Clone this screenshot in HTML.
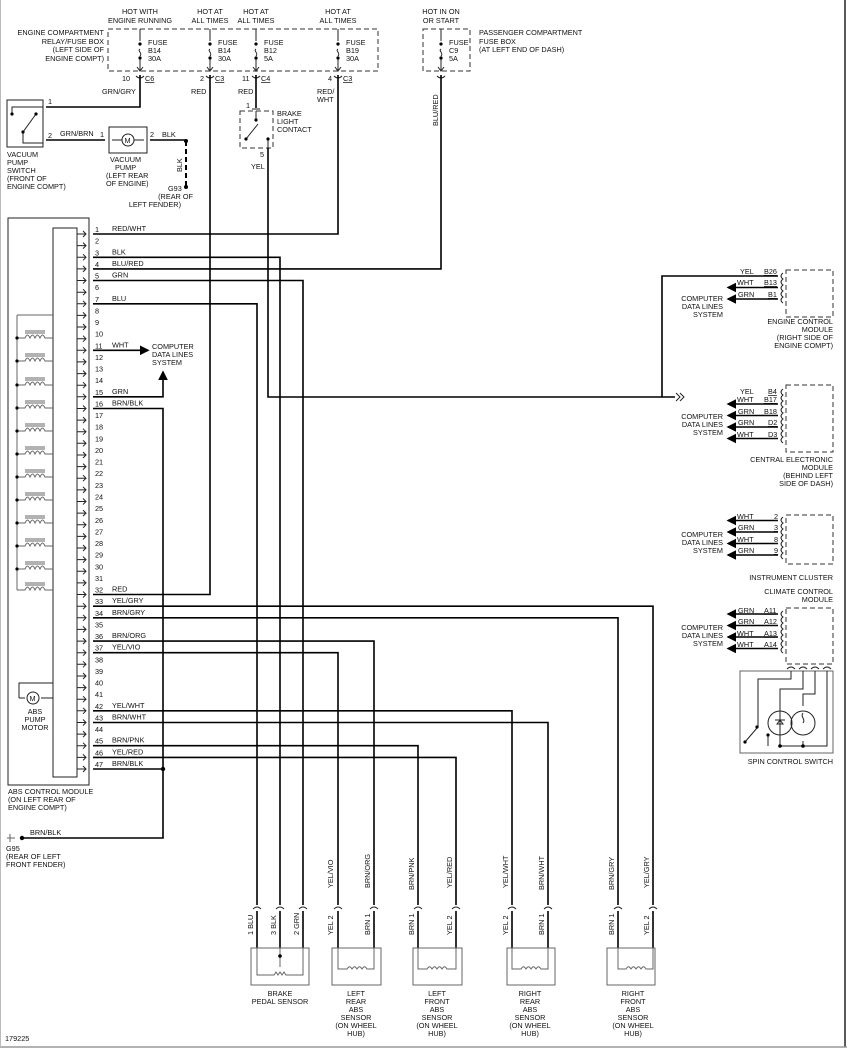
<!DOCTYPE html>
<html><head><meta charset="utf-8"><style>
html,body{margin:0;padding:0;background:#fff}
svg{display:block}
text{font-family:"Liberation Sans",Arial,sans-serif;font-size:7.3px;fill:#111}
.w{stroke:#000;stroke-width:1.6;fill:none}
.t{stroke:#222;stroke-width:1;fill:none}
.d{stroke:#333;stroke-width:1;fill:none;stroke-dasharray:5 3}
.g{stroke:#666;stroke-width:1;fill:none}
</style></head><body>
<svg width="847" height="1050" viewBox="0 0 847 1050" xmlns="http://www.w3.org/2000/svg">
<defs>
<marker id="ar" markerWidth="6" markerHeight="6" refX="5" refY="3" orient="auto"><path d="M0,0 L6,3 L0,6z" fill="#000"/></marker>
</defs>
<line x1="845" y1="0" x2="845" y2="1047" stroke="#222" stroke-width="1.5"/>
<line x1="0" y1="1047" x2="847" y2="1047" stroke="#999" stroke-width="1.5"/>
<line x1="0.5" y1="0" x2="0.5" y2="1047" stroke="#bbb"/>

<rect x="108" y="29" width="270" height="42" class="d"/>
<text x="104" y="35" text-anchor="end">ENGINE COMPARTMENT</text>
<text x="104" y="44" text-anchor="end">RELAY/FUSE BOX</text>
<text x="104" y="52" text-anchor="end">(LEFT SIDE OF</text>
<text x="104" y="61" text-anchor="end">ENGINE COMPT)</text>
<text x="140" y="14" text-anchor="middle">HOT WITH</text>
<text x="140" y="23" text-anchor="middle">ENGINE RUNNING</text>
<text x="210" y="14" text-anchor="middle">HOT AT</text><text x="210" y="23" text-anchor="middle">ALL TIMES</text>
<text x="256" y="14" text-anchor="middle">HOT AT</text><text x="256" y="23" text-anchor="middle">ALL TIMES</text>
<text x="338" y="14" text-anchor="middle">HOT AT</text><text x="338" y="23" text-anchor="middle">ALL TIMES</text>
<g class="t">
<path d="M140 29V41 M140 49c-3 2 3 4 0 7 M140 58V70 M137 67l3 4 3-4"/>
<path d="M210 29V41 M210 49c-3 2 3 4 0 7 M210 58V70 M207 67l3 4 3-4"/>
<path d="M256 29V41 M256 49c-3 2 3 4 0 7 M256 58V70 M253 67l3 4 3-4"/>
<path d="M338 29V41 M338 49c-3 2 3 4 0 7 M338 58V70 M335 67l3 4 3-4"/>
<path d="M441 29V41 M441 49c-3 2 3 4 0 7 M441 58V70 M438 67l3 4 3-4"/>
</g>
<g fill="#000"><circle cx="140" cy="44" r="1.6"/><circle cx="140" cy="58" r="1.6"/><circle cx="210" cy="44" r="1.6"/><circle cx="210" cy="58" r="1.6"/><circle cx="256" cy="44" r="1.6"/><circle cx="256" cy="58" r="1.6"/><circle cx="338" cy="44" r="1.6"/><circle cx="338" cy="58" r="1.6"/><circle cx="441" cy="44" r="1.6"/><circle cx="441" cy="58" r="1.6"/></g>
<text x="148" y="45">FUSE</text><text x="148" y="53">B14</text><text x="148" y="61">30A</text>
<text x="218" y="45">FUSE</text><text x="218" y="53">B14</text><text x="218" y="61">30A</text>
<text x="264" y="45">FUSE</text><text x="264" y="53">B12</text><text x="264" y="61">5A</text>
<text x="346" y="45">FUSE</text><text x="346" y="53">B19</text><text x="346" y="61">30A</text>
<g class="t"><path d="M136 76q4 4 8 0M206 76q4 4 8 0M252 76q4 4 8 0M334 76q4 4 8 0M437 76q4 4 8 0"/></g>
<text x="122" y="81">10</text><text x="145" y="81" text-decoration="underline">C6</text>
<text x="200" y="81">2</text><text x="215" y="81" text-decoration="underline">C3</text>
<text x="242" y="81">11</text><text x="261" y="81" text-decoration="underline">C4</text>
<text x="328" y="81">4</text><text x="343" y="81" text-decoration="underline">C3</text>
<text x="102" y="94">GRN/GRY</text>
<text x="191" y="94">RED</text>
<text x="238" y="94">RED</text>
<text x="317" y="94">RED/</text><text x="317" y="102">WHT</text>
<rect x="423" y="29" width="47" height="42" class="d"/>
<text x="441" y="14" text-anchor="middle">HOT IN ON</text><text x="441" y="23" text-anchor="middle">OR START</text>
<text x="449" y="45">FUSE</text><text x="449" y="53">C9</text><text x="449" y="61">5A</text>
<text x="479" y="35">PASSENGER COMPARTMENT</text><text x="479" y="44">FUSE BOX</text><text x="479" y="52">(AT LEFT END OF DASH)</text>
<text transform="translate(438,126) rotate(-90)">BLU/RED</text>

<rect x="7" y="100" width="36" height="47" class="t"/>
<path class="t" d="M12 114V107H43 M23 132V143H43 M23 132L36 114"/>
<circle cx="12" cy="114" r="1.6"/><circle cx="23" cy="132" r="1.6"/><circle cx="36" cy="114" r="1.6"/>
<text x="48" y="104">1</text><text x="48" y="138">2</text>
<path class="w" d="M46 107H140V75"/>
<path class="w" d="M46 140H105"/>
<text x="60" y="136">GRN/BRN</text>
<text x="7" y="157">VACUUM</text><text x="7" y="165">PUMP</text><text x="7" y="173">SWITCH</text><text x="7" y="181">(FRONT OF</text><text x="7" y="189">ENGINE COMPT)</text>
<rect x="109" y="127" width="38" height="26" class="t"/>
<circle cx="128" cy="140" r="6" class="t"/><text x="124.5" y="143">M</text>
<path class="t" d="M112 140h10M134 140h10"/>
<text x="100" y="137">1</text><text x="150" y="137">2</text>
<path class="w" d="M150 140H186"/>
<text x="162" y="137">BLK</text>
<path d="M186 141V187" stroke="#000" stroke-width="2" stroke-dasharray="5 3"/>
<circle cx="186" cy="141" r="2" fill="#000"/><circle cx="186" cy="187" r="2" fill="#000"/>
<text transform="translate(182,172) rotate(-90)">BLK</text>
<text x="168" y="191">G93</text>
<text x="193" y="199" text-anchor="end">(REAR OF</text><text x="181" y="207" text-anchor="end">LEFT FENDER)</text>
<text x="110" y="162">VACUUM</text><text x="115" y="170">PUMP</text><text x="106" y="178">(LEFT REAR</text><text x="106" y="186">OF ENGINE)</text>

<rect x="240" y="111" width="33" height="37" class="d"/>
<text x="246" y="108">1</text>
<path class="w" d="M256 75V108"/>
<path class="t" d="M252 109h8M256 111V120M246 139L258 124M268 139V148"/>
<circle cx="256" cy="120" r="1.6"/><circle cx="246" cy="139" r="1.6"/><circle cx="268" cy="139" r="1.6"/>
<text x="277" y="116">BRAKE</text><text x="277" y="124">LIGHT</text><text x="277" y="132">CONTACT</text>
<text x="260" y="157">5</text><text x="251" y="169">YEL</text>

<rect x="8" y="218" width="81" height="567" class="t"/>
<rect x="53" y="228" width="24" height="549" class="t"/>
<path class="g" d="M17 315H53 M17 315V590"/>
<g class="g">
<path d="M17 338H25c2-4 3-4 5 0 2-4 3-4 5 0 2-4 3-4 5 0 2-4 3-4 5 0H53 M25 333H45M25 331H45"/>
<path d="M17 361H25c2-4 3-4 5 0 2-4 3-4 5 0 2-4 3-4 5 0 2-4 3-4 5 0H53 M25 356H45M25 354H45"/>
<path d="M17 385H25c2-4 3-4 5 0 2-4 3-4 5 0 2-4 3-4 5 0 2-4 3-4 5 0H53 M25 380H45M25 378H45"/>
<path d="M17 408H25c2-4 3-4 5 0 2-4 3-4 5 0 2-4 3-4 5 0 2-4 3-4 5 0H53 M25 403H45M25 401H45"/>
<path d="M17 431H25c2-4 3-4 5 0 2-4 3-4 5 0 2-4 3-4 5 0 2-4 3-4 5 0H53 M25 426H45M25 424H45"/>
<path d="M17 454H25c2-4 3-4 5 0 2-4 3-4 5 0 2-4 3-4 5 0 2-4 3-4 5 0H53 M25 449H45M25 447H45"/>
<path d="M17 477H25c2-4 3-4 5 0 2-4 3-4 5 0 2-4 3-4 5 0 2-4 3-4 5 0H53 M25 472H45M25 470H45"/>
<path d="M17 500H25c2-4 3-4 5 0 2-4 3-4 5 0 2-4 3-4 5 0 2-4 3-4 5 0H53 M25 495H45M25 493H45"/>
<path d="M17 523H25c2-4 3-4 5 0 2-4 3-4 5 0 2-4 3-4 5 0 2-4 3-4 5 0H53 M25 518H45M25 516H45"/>
<path d="M17 546H25c2-4 3-4 5 0 2-4 3-4 5 0 2-4 3-4 5 0 2-4 3-4 5 0H53 M25 541H45M25 539H45"/>
<path d="M17 569H25c2-4 3-4 5 0 2-4 3-4 5 0 2-4 3-4 5 0 2-4 3-4 5 0H53 M25 564H45M25 562H45"/>
<path d="M17 590H25c2-4 3-4 5 0 2-4 3-4 5 0 2-4 3-4 5 0 2-4 3-4 5 0H53 M25 585H45M25 583H45"/>
</g>
<g fill="#000"><circle cx="17" cy="338" r="1.6"/><circle cx="17" cy="361" r="1.6"/><circle cx="17" cy="385" r="1.6"/><circle cx="17" cy="408" r="1.6"/><circle cx="17" cy="431" r="1.6"/><circle cx="17" cy="454" r="1.6"/><circle cx="17" cy="477" r="1.6"/><circle cx="17" cy="500" r="1.6"/><circle cx="17" cy="523" r="1.6"/><circle cx="17" cy="546" r="1.6"/><circle cx="17" cy="569" r="1.6"/></g>
<path class="t" d="M19 698V683H53 M19 698H25 M41 698H53"/>
<circle cx="33" cy="698" r="6" class="t"/><text x="29.5" y="701">M</text>
<text x="35" y="714" text-anchor="middle">ABS</text><text x="35" y="722" text-anchor="middle">PUMP</text><text x="35" y="730" text-anchor="middle">MOTOR</text>
<text x="8" y="794">ABS CONTROL MODULE</text><text x="8" y="802">(ON LEFT REAR OF</text><text x="8" y="810">ENGINE COMPT)</text>

<g class="t">
<path d="M77 234h9m-3-3l3 3-3 3M77 245.6h9m-3-3l3 3-3 3M77 257.3h9m-3-3l3 3-3 3M77 268.9h9m-3-3l3 3-3 3M77 280.5h9m-3-3l3 3-3 3M77 292.2h9m-3-3l3 3-3 3M77 303.8h9m-3-3l3 3-3 3M77 315.4h9m-3-3l3 3-3 3M77 327h9m-3-3l3 3-3 3M77 338.7h9m-3-3l3 3-3 3M77 350.3h9m-3-3l3 3-3 3M77 361.9h9m-3-3l3 3-3 3M77 373.6h9m-3-3l3 3-3 3M77 385.2h9m-3-3l3 3-3 3M77 396.8h9m-3-3l3 3-3 3M77 408.5h9m-3-3l3 3-3 3M77 420.1h9m-3-3l3 3-3 3M77 431.7h9m-3-3l3 3-3 3M77 443.3h9m-3-3l3 3-3 3M77 455h9m-3-3l3 3-3 3M77 466.6h9m-3-3l3 3-3 3M77 478.2h9m-3-3l3 3-3 3M77 489.9h9m-3-3l3 3-3 3M77 501.5h9m-3-3l3 3-3 3M77 513.1h9m-3-3l3 3-3 3M77 524.8h9m-3-3l3 3-3 3M77 536.4h9m-3-3l3 3-3 3M77 548h9m-3-3l3 3-3 3M77 559.6h9m-3-3l3 3-3 3M77 571.3h9m-3-3l3 3-3 3M77 582.9h9m-3-3l3 3-3 3M77 594.5h9m-3-3l3 3-3 3M77 606.2h9m-3-3l3 3-3 3M77 617.8h9m-3-3l3 3-3 3M77 629.4h9m-3-3l3 3-3 3M77 641.1h9m-3-3l3 3-3 3M77 652.7h9m-3-3l3 3-3 3M77 664.3h9m-3-3l3 3-3 3M77 676h9m-3-3l3 3-3 3M77 687.6h9m-3-3l3 3-3 3M77 699.2h9m-3-3l3 3-3 3M77 710.8h9m-3-3l3 3-3 3M77 722.5h9m-3-3l3 3-3 3M77 734.1h9m-3-3l3 3-3 3M77 745.7h9m-3-3l3 3-3 3M77 757.4h9m-3-3l3 3-3 3M77 769h9m-3-3l3 3-3 3"/>
</g>
<g>
<text x="95" y="232">1</text><text x="95" y="243.6">2</text><text x="95" y="255.3">3</text><text x="95" y="266.9">4</text><text x="95" y="278.5">5</text><text x="95" y="290.2">6</text><text x="95" y="301.8">7</text><text x="95" y="313.4">8</text><text x="95" y="325">9</text><text x="95" y="336.7">10</text><text x="95" y="348.3">11</text><text x="95" y="359.9">12</text><text x="95" y="371.6">13</text><text x="95" y="383.2">14</text><text x="95" y="394.8">15</text><text x="95" y="406.5">16</text><text x="95" y="418.1">17</text><text x="95" y="429.7">18</text><text x="95" y="441.3">19</text><text x="95" y="453">20</text><text x="95" y="464.6">21</text><text x="95" y="476.2">22</text><text x="95" y="487.9">23</text><text x="95" y="499.5">24</text><text x="95" y="511.1">25</text><text x="95" y="522.8">26</text><text x="95" y="534.4">27</text><text x="95" y="546">28</text><text x="95" y="557.6">29</text><text x="95" y="569.3">30</text><text x="95" y="580.9">31</text><text x="95" y="592.5">32</text><text x="95" y="604.2">33</text><text x="95" y="615.8">34</text><text x="95" y="627.4">35</text><text x="95" y="639.1">36</text><text x="95" y="650.7">37</text><text x="95" y="662.3">38</text><text x="95" y="674">39</text><text x="95" y="685.6">40</text><text x="95" y="697.2">41</text><text x="95" y="708.8">42</text><text x="95" y="720.5">43</text><text x="95" y="732.1">44</text><text x="95" y="743.7">45</text><text x="95" y="755.4">46</text><text x="95" y="767">47</text>
</g>
<g>
<text x="112" y="231">RED/WHT</text><text x="112" y="254.3">BLK</text><text x="112" y="265.9">BLU/RED</text><text x="112" y="277.5">GRN</text><text x="112" y="300.8">BLU</text><text x="112" y="347.3">WHT</text><text x="112" y="393.8">GRN</text><text x="112" y="405.5">BRN/BLK</text><text x="112" y="591.5">RED</text><text x="112" y="603.2">YEL/GRY</text><text x="112" y="614.8">BRN/GRY</text><text x="112" y="638.1">BRN/ORG</text><text x="112" y="649.7">YEL/VIO</text><text x="112" y="707.8">YEL/WHT</text><text x="112" y="719.5">BRN/WHT</text><text x="112" y="742.7">BRN/PNK</text><text x="112" y="754.4">YEL/RED</text><text x="112" y="766">BRN/BLK</text>
</g>

<g class="w">
<path d="M93 234H338V75"/>
<path d="M93 257.3H280V905"/>
<path d="M93 268.9H441V75"/>
<path d="M93 280.5H303V905"/>
<path d="M93 303.8H257V905"/>
<path d="M93 408.5H163V838H22"/>
<path d="M93 594.5H210V75"/>
<path d="M93 606.2H653V905"/>
<path d="M93 617.8H618V905"/>
<path d="M93 641.1H374V905"/>
<path d="M93 652.7H338V905"/>
<path d="M93 710.8H512V905"/>
<path d="M93 722.5H548V905"/>
<path d="M93 745.7H418V905"/>
<path d="M93 757.4H456V905"/>
<path d="M93 769H163"/>
<path d="M268 148V397H675"/>
<path d="M662 397V276H778"/>
<path d="M93 350.3H148" marker-end="url(#ar)"/>
<path d="M93 396.8H163V372" marker-end="url(#ar)"/>
</g>
<circle cx="163" cy="769" r="2.2" fill="#000"/><circle cx="22" cy="838" r="2.2" fill="#000"/>
<path class="t" d="M676 393l4 4-4 4M680 393l4 4-4 4"/>
<text x="152" y="349">COMPUTER</text><text x="152" y="357">DATA LINES</text><text x="152" y="365">SYSTEM</text>
<text x="30" y="835">BRN/BLK</text>
<path class="g" d="M7 838h8M10 834v8"/>
<text x="6" y="851">G95</text><text x="6" y="859">(REAR OF LEFT</text><text x="6" y="867">FRONT FENDER)</text>

<g class="d"><rect x="786" y="270" width="47" height="47"/><rect x="786" y="385" width="47" height="67"/><rect x="786" y="515" width="47" height="49"/><rect x="786" y="608" width="47" height="56"/></g>
<g class="w">
<path d="M778 287.5H728" marker-end="url(#ar)"/><path d="M778 299H728" marker-end="url(#ar)"/>
<path d="M778 404H728" marker-end="url(#ar)"/><path d="M778 415.5H728" marker-end="url(#ar)"/><path d="M778 427H728" marker-end="url(#ar)"/><path d="M778 438.5H728" marker-end="url(#ar)"/>
<path d="M778 520.5H728" marker-end="url(#ar)"/><path d="M778 532H728" marker-end="url(#ar)"/><path d="M778 543.5H728" marker-end="url(#ar)"/><path d="M778 555H728" marker-end="url(#ar)"/>
<path d="M778 614H728" marker-end="url(#ar)"/><path d="M778 625.5H728" marker-end="url(#ar)"/><path d="M778 637H728" marker-end="url(#ar)"/><path d="M778 648.5H728" marker-end="url(#ar)"/>
</g>
<g class="t"><path d="M783 273q-4 3 0 6q-4 3 0 6q-4 3 0 6q-4 3 0 6q-4 3 0 6 M783 389q-4 3 0 6q-4 3 0 6q-4 3 0 6q-4 3 0 6q-4 3 0 6q-4 3 0 6q-4 3 0 6q-4 3 0 6q-4 3 0 6 M783 517q-4 3 0 6q-4 3 0 6q-4 3 0 6q-4 3 0 6q-4 3 0 6q-4 3 0 6q-4 3 0 6 M783 611q-4 3 0 6q-4 3 0 6q-4 3 0 6q-4 3 0 6q-4 3 0 6q-4 3 0 6q-4 3 0 6"/></g>
<text x="740" y="274">YEL</text><text x="764" y="274" text-decoration="underline">B26</text>
<text x="737" y="285">WHT</text><text x="764" y="285" text-decoration="underline">B13</text>
<text x="738" y="297">GRN</text><text x="768" y="297" text-decoration="underline">B1</text>
<text x="723" y="301" text-anchor="end">COMPUTER</text><text x="723" y="309" text-anchor="end">DATA LINES</text><text x="723" y="317" text-anchor="end">SYSTEM</text>
<text x="833" y="324" text-anchor="end">ENGINE CONTROL</text><text x="833" y="332" text-anchor="end">MODULE</text><text x="833" y="340" text-anchor="end">(RIGHT SIDE OF</text><text x="833" y="348" text-anchor="end">ENGINE COMPT)</text>
<text x="740" y="394">YEL</text><text x="768" y="394" text-decoration="underline">B4</text>
<text x="737" y="402">WHT</text><text x="764" y="402" text-decoration="underline">B17</text>
<text x="738" y="414">GRN</text><text x="764" y="414" text-decoration="underline">B18</text>
<text x="738" y="425">GRN</text><text x="768" y="425" text-decoration="underline">D2</text>
<text x="737" y="437">WHT</text><text x="768" y="437" text-decoration="underline">D3</text>
<text x="723" y="419" text-anchor="end">COMPUTER</text><text x="723" y="427" text-anchor="end">DATA LINES</text><text x="723" y="435" text-anchor="end">SYSTEM</text>
<text x="833" y="462" text-anchor="end">CENTRAL ELECTRONIC</text><text x="833" y="470" text-anchor="end">MODULE</text><text x="833" y="478" text-anchor="end">(BEHIND LEFT</text><text x="833" y="486" text-anchor="end">SIDE OF DASH)</text>
<text x="737" y="519">WHT</text><text x="774" y="519" text-decoration="underline">2</text>
<text x="738" y="530">GRN</text><text x="774" y="530" text-decoration="underline">3</text>
<text x="737" y="542">WHT</text><text x="774" y="542" text-decoration="underline">8</text>
<text x="738" y="553">GRN</text><text x="774" y="553" text-decoration="underline">9</text>
<text x="723" y="537" text-anchor="end">COMPUTER</text><text x="723" y="545" text-anchor="end">DATA LINES</text><text x="723" y="553" text-anchor="end">SYSTEM</text>
<text x="833" y="580" text-anchor="end">INSTRUMENT CLUSTER</text>
<text x="833" y="594" text-anchor="end">CLIMATE CONTROL</text><text x="833" y="602" text-anchor="end">MODULE</text>
<text x="738" y="613">GRN</text><text x="764" y="613" text-decoration="underline">A11</text>
<text x="738" y="624">GRN</text><text x="764" y="624" text-decoration="underline">A12</text>
<text x="737" y="636">WHT</text><text x="764" y="636" text-decoration="underline">A13</text>
<text x="737" y="647">WHT</text><text x="764" y="647" text-decoration="underline">A14</text>
<text x="723" y="630" text-anchor="end">COMPUTER</text><text x="723" y="638" text-anchor="end">DATA LINES</text><text x="723" y="646" text-anchor="end">SYSTEM</text>
<rect x="740" y="671" width="93" height="82" class="g"/>
<g class="t">
<path d="M787 669q4-4 8 0M799 669q4-4 8 0M811 669q4-4 8 0M823 669q4-4 8 0"/>
<path d="M791 671V679H758V727 M745 742L757 728 M803 671V689H780V746H827V671 M815 671V694H803V706 M827 671V746 M768 746V735 M803 741V746"/>
<circle cx="780" cy="723" r="12"/><circle cx="803" cy="723" r="12"/>
<path d="M775 720h10M780 720l-3 4h6z M803 713c-3 4 3 6 0 10"/>
</g>
<circle cx="757" cy="727" r="1.6"/><circle cx="745" cy="742" r="1.6"/><circle cx="768" cy="735" r="1.6"/><circle cx="780" cy="746" r="1.8"/><circle cx="803" cy="746" r="1.8"/>
<text x="833" y="764" text-anchor="end">SPIN CONTROL SWITCH</text>

<g class="t">
<path d="M253 909q4-4 8 0M276 909q4-4 8 0M299 909q4-4 8 0"/>
<path d="M334 909q4-4 8 0M370 909q4-4 8 0M414 909q4-4 8 0M452 909q4-4 8 0M508 909q4-4 8 0M544 909q4-4 8 0M614 909q4-4 8 0M649 909q4-4 8 0"/>
</g>
<g class="w"><path d="M257 911V948M280 911V948M303 911V948M338 911V948M374 911V948M418 911V948M456 911V948M512 911V948M548 911V948M618 911V948M653 911V948"/></g>
<g class="g">
<rect x="251" y="948" width="58" height="37"/>
<path d="M257 948V975H274l2-3 2 3 2-3 2 3 2-3 2 3H303V948 M280 948V967"/>
<rect x="332" y="948" width="49" height="37"/><path d="M338 948V969H347c2-3 3-3 5 0 2-3 3-3 5 0 2-3 3-3 5 0 2-3 3-3 5 0H374V948"/>
<rect x="413" y="948" width="49" height="37"/><path d="M418 948V969H427c2-3 3-3 5 0 2-3 3-3 5 0 2-3 3-3 5 0 2-3 3-3 5 0H456V948"/>
<rect x="507" y="948" width="48" height="37"/><path d="M512 948V969H521c2-3 3-3 5 0 2-3 3-3 5 0 2-3 3-3 5 0 2-3 3-3 5 0H548V948"/>
<rect x="607" y="948" width="48" height="37"/><path d="M618 948V969H626c2-3 3-3 5 0 2-3 3-3 5 0 2-3 3-3 5 0 2-3 3-3 5 0H653V948"/>
</g>
<circle cx="280" cy="956" r="1.8"/>
<g>
<text transform="translate(253,935) rotate(-90)">1 BLU</text>
<text transform="translate(276,935) rotate(-90)">3 BLK</text>
<text transform="translate(299,935) rotate(-90)">2 GRN</text>
<text transform="translate(333,888) rotate(-90)">YEL/VIO</text><text transform="translate(370,888) rotate(-90)">BRN/ORG</text>
<text transform="translate(414,890) rotate(-90)">BRN/PNK</text><text transform="translate(452,888) rotate(-90)">YEL/RED</text>
<text transform="translate(508,888) rotate(-90)">YEL/WHT</text><text transform="translate(544,890) rotate(-90)">BRN/WHT</text>
<text transform="translate(614,890) rotate(-90)">BRN/GRY</text><text transform="translate(649,888) rotate(-90)">YEL/GRY</text>
<text transform="translate(333,935) rotate(-90)">YEL  2</text><text transform="translate(370,935) rotate(-90)">BRN  1</text>
<text transform="translate(414,935) rotate(-90)">BRN  1</text><text transform="translate(452,935) rotate(-90)">YEL  2</text>
<text transform="translate(508,935) rotate(-90)">YEL  2</text><text transform="translate(544,935) rotate(-90)">BRN  1</text>
<text transform="translate(614,935) rotate(-90)">BRN  1</text><text transform="translate(649,935) rotate(-90)">YEL  2</text>
</g>
<text x="280" y="996" text-anchor="middle">BRAKE</text><text x="280" y="1004" text-anchor="middle">PEDAL SENSOR</text>
<g text-anchor="middle">
<text x="356" y="996">LEFT</text><text x="356" y="1004">REAR</text><text x="356" y="1012">ABS</text><text x="356" y="1020">SENSOR</text><text x="356" y="1028">(ON WHEEL</text><text x="356" y="1036">HUB)</text>
<text x="437" y="996">LEFT</text><text x="437" y="1004">FRONT</text><text x="437" y="1012">ABS</text><text x="437" y="1020">SENSOR</text><text x="437" y="1028">(ON WHEEL</text><text x="437" y="1036">HUB)</text>
<text x="530" y="996">RIGHT</text><text x="530" y="1004">REAR</text><text x="530" y="1012">ABS</text><text x="530" y="1020">SENSOR</text><text x="530" y="1028">(ON WHEEL</text><text x="530" y="1036">HUB)</text>
<text x="633" y="996">RIGHT</text><text x="633" y="1004">FRONT</text><text x="633" y="1012">ABS</text><text x="633" y="1020">SENSOR</text><text x="633" y="1028">(ON WHEEL</text><text x="633" y="1036">HUB)</text>
</g>
<text x="5" y="1041">179225</text>
</svg>
</body></html>
